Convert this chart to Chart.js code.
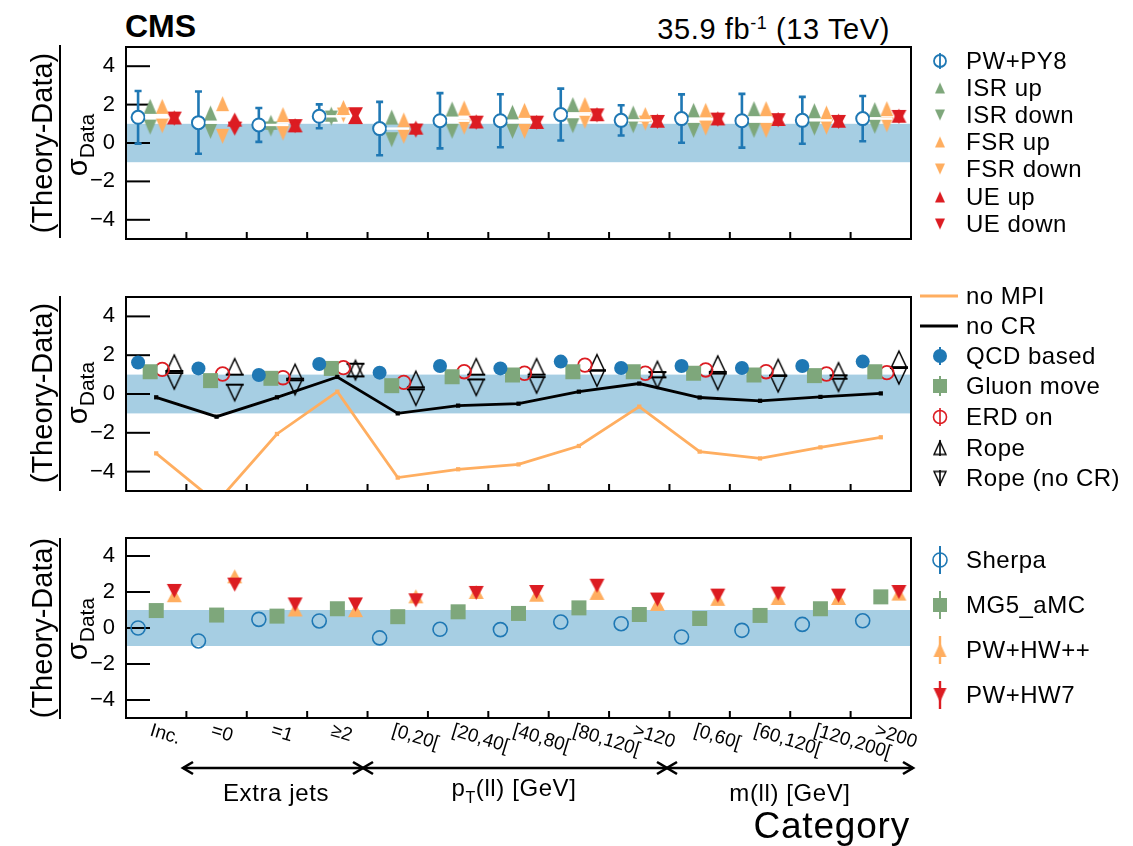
<!DOCTYPE html>
<html>
<head>
<meta charset="utf-8">
<script src="https://cdn.jsdelivr.net/npm/chart.js@4.4.1/dist/chart.umd.min.js"></script>
<style>
  body { margin:0; background:#fff; width:1133px; height:846px; overflow:hidden; position:relative;
         font-family:"Liberation Sans", Arial, Helvetica, sans-serif; color:#000; }
  .abs { position:absolute; }
  canvas.panel { position:absolute; left:0; }
  .ytitle { position:absolute; white-space:nowrap; line-height:1; font-size:29px;
            transform:translate(-50%,-50%) rotate(-90deg); }
  .ytitle sub { font-size:21px; vertical-align:-0.35em; }
  .frac { position:absolute; left:59px; width:2px; background:#000; }
  .legend { position:absolute; left:918px; width:215px; }
  .row { position:absolute; left:0; height:30px; display:flex; align-items:center; white-space:nowrap;
         font-size:24px; letter-spacing:0.5px; }
  .row canvas { margin-right:4px; }
  .xl { position:absolute; font-size:19px; line-height:1; white-space:nowrap;
        transform-origin:0 50%; transform:translateY(-50%) rotate(17deg); }
  .grp { position:absolute; font-size:24px; letter-spacing:0.6px; white-space:nowrap; line-height:1;
         transform:translateX(-50%); }
  .grp sub { font-size:16px; vertical-align:-0.45em; }
</style>
</head>
<body>
<div class="abs" style="left:125px;top:10px;font-size:32px;font-weight:bold;line-height:1;">CMS</div>
<div class="abs" style="right:243px;top:14px;font-size:29px;letter-spacing:0.6px;line-height:1;white-space:nowrap;">35.9 fb<sup style="font-size:18px;vertical-align:0.55em;">-1</sup> (13 TeV)</div>

<canvas id="cTop" class="panel" width="925" height="212" style="top:37px"></canvas>
<canvas id="cMid" class="panel" width="925" height="214" style="top:287px"></canvas>
<canvas id="cBot" class="panel" width="925" height="200" style="top:528px"></canvas>

<div class="ytitle" style="left:42px;top:143px;">(Theory-Data)</div>
<div class="frac" style="top:45px;height:193px;"></div>
<div class="ytitle" style="left:80px;top:145px;">σ<sub>Data</sub></div>

<div class="ytitle" style="left:42px;top:393px;">(Theory-Data)</div>
<div class="frac" style="top:296px;height:195px;"></div>
<div class="ytitle" style="left:80px;top:393px;">σ<sub>Data</sub></div>

<div class="ytitle" style="left:42px;top:628px;">(Theory-Data)</div>
<div class="frac" style="top:538px;height:181px;"></div>
<div class="ytitle" style="left:80px;top:629px;">σ<sub>Data</sub></div>

<div id="legTop" class="legend" style="top:0"></div>
<div id="legMid" class="legend" style="top:0"></div>
<div id="legBot" class="legend" style="top:0"></div>

<div id="xlabels"></div>

<svg class="abs" style="left:0;top:0;" width="1133" height="846">
  <g stroke="#000" stroke-width="2.6" fill="none" stroke-linejoin="miter">
    <line x1="183" y1="768" x2="913" y2="768"/>
    <polyline points="193,762 183,768 193,774"/>
    <polyline points="353,762 363,768 353,774"/>
    <polyline points="373,762 363,768 373,774"/>
    <polyline points="657,762 667,768 657,774"/>
    <polyline points="677,762 667,768 677,774"/>
    <polyline points="903,762 913,768 903,774"/>
  </g>
</svg>
<div class="grp" style="left:276px;top:781px;">Extra jets</div>
<div class="grp" style="left:514px;top:776px;">p<sub>T</sub>(ll) [GeV]</div>
<div class="grp" style="left:790px;top:781px;">m(ll) [GeV]</div>
<div class="abs" style="right:223px;top:807px;font-size:37px;letter-spacing:0.8px;line-height:1;">Category</div>

<script>
// ---------- categories and axis ticks ----------
const categories = ['Inc.', '=0', '=1', '\u22652', '[0,20[', '[20,40[', '[40,80[', '[80,120[',
                    '>120', '[0,60[', '[60,120[', '[120,200[', '>200'];
const yTicks = [-4, -2, 0, 2, 4];

// ---------- upper panel: PW+PY8 and its ISR / FSR / UE variations ----------
const pwpy8    = [1.34, 1.06, 0.94, 1.39, 0.75, 1.16, 1.16, 1.48, 1.18, 1.27, 1.16, 1.18, 1.27];
const pwpy8Err = [1.37, 1.62, 0.88, 0.62, 1.39, 1.44, 1.38, 1.35, 0.79, 1.26, 1.40, 1.22, 1.18];
const isrUp    = [1.91, 1.56, 1.08, 1.50, 1.35, 1.77, 1.60, 2.00, 1.56, 1.70, 1.79, 1.68, 1.74];
const isrDown  = [0.83, 0.61, 0.73, 1.30, 0.17, 0.61, 0.61, 0.90, 0.90, 0.66, 0.66, 0.78, 0.87];
const fsrUp    = [1.91, 2.05, 1.48, 1.85, 1.20, 1.82, 1.70, 2.00, 1.48, 1.70, 1.79, 1.56, 1.79];
const fsrDown  = [0.90, 0.35, 0.52, 1.46, 0.35, 0.83, 0.61, 1.13, 1.04, 0.78, 0.66, 0.83, 0.95];
const ueUp     = [1.33, 1.22, 0.92, 1.35, 0.80, 1.12, 1.10, 1.50, 1.16, 1.28, 1.25, 1.16, 1.42];
const ueDown   = [1.27, 0.75, 0.88, 1.50, 0.65, 1.06, 1.06, 1.44, 1.10, 1.22, 1.19, 1.10, 1.36];

// ---------- middle panel: MPI / colour reconnection models ----------
const noMPI    = [-3.06, -5.6, -2.06, 0.12, -4.31, -3.88, -3.63, -2.68, -0.65, -2.97, -3.32, -2.75, -2.23];
const noCR     = [-0.17, -1.17, -0.17, 0.88, -1.00, -0.60, -0.50, 0.12, 0.54, -0.18, -0.35, -0.15, 0.03];
const qcdBased = [1.62, 1.32, 0.98, 1.55, 1.10, 1.44, 1.32, 1.67, 1.34, 1.44, 1.34, 1.44, 1.67];
const gluonMove= [1.15, 0.69, 0.81, 1.32, 0.43, 0.89, 0.98, 1.15, 1.15, 1.07, 0.98, 0.95, 1.15];
const erdOn    = [1.27, 1.03, 0.84, 1.36, 0.60, 1.15, 1.07, 1.49, 1.07, 1.24, 1.15, 1.03, 1.10];
const rope     = [1.60, 1.41, 1.12, 1.32, 0.76, 1.41, 1.41, 1.62, 1.27, 1.55, 1.37, 1.20, 1.80];
const ropeNoCR = [0.67, 0.07, 0.38, 1.15, -0.17, 0.34, 0.46, 0.81, 0.72, 0.64, 0.52, 0.55, 0.93];

// ---------- lower panel: alternative generators ----------
const sherpa   = [0.00, -0.72, 0.48, 0.39, -0.55, -0.07, -0.09, 0.33, 0.24, -0.50, -0.13, 0.20, 0.40];
const mg5amc   = [0.97, 0.72, 0.66, 1.07, 0.63, 0.90, 0.81, 1.12, 0.75, 0.53, 0.70, 1.07, 1.73];
const pwhwpp   = [1.82, 2.87, 1.03, 0.99, 1.76, 2.00, 1.85, 1.95, 1.34, 1.62, 1.67, 1.67, 1.91];
const pwhw7    = [2.06, 2.41, 1.31, 1.31, 1.54, 1.95, 2.00, 2.35, 1.58, 1.80, 1.91, 1.80, 2.00];

// ---------- styling ----------
const BLUE = '#1f78b4', GREEN = '#7ea77b', ORANGE = '#ffae60', RED = '#dc1c22', BAND = '#a6cee3';
const FONT = '"Liberation Sans", Arial, Helvetica, sans-serif';

// marker sprites drawn once on small canvases
function sprite(kind, w, h, fill, stroke, lw, baseLine, baseColor) {
  const pad = 3;
  const c = document.createElement('canvas');
  c.width = Math.ceil(Math.max(w, baseLine || 0) + 2 * pad);
  c.height = Math.ceil(h + 2 * pad);
  const g = c.getContext('2d');
  const cx = c.width / 2, cy = c.height / 2;
  g.beginPath();
  if (kind === 'up') {
    g.moveTo(cx, cy - h / 2); g.lineTo(cx + w / 2, cy + h / 2); g.lineTo(cx - w / 2, cy + h / 2); g.closePath();
  } else if (kind === 'down') {
    g.moveTo(cx, cy + h / 2); g.lineTo(cx + w / 2, cy - h / 2); g.lineTo(cx - w / 2, cy - h / 2); g.closePath();
  } else if (kind === 'square') {
    g.rect(cx - w / 2, cy - h / 2, w, h);
  } else {
    g.arc(cx, cy, w / 2, 0, 2 * Math.PI);
  }
  if (fill) { g.fillStyle = fill; g.fill(); }
  if (stroke) { g.strokeStyle = stroke; g.lineWidth = lw; g.stroke(); }
  if (baseLine) {
    const by = kind === 'up' ? cy + h / 2 : cy - h / 2;
    g.beginPath(); g.moveTo(cx - baseLine / 2, by); g.lineTo(cx + baseLine / 2, by);
    g.strokeStyle = baseColor || stroke; g.lineWidth = 2; g.stroke();
  }
  return c;
}

const M = {
  isrUp:   sprite('up', 13, 15, GREEN),
  isrDn:   sprite('down', 13, 15, GREEN),
  fsrUp:   sprite('up', 13, 15, ORANGE),
  fsrDn:   sprite('down', 13, 15, ORANGE),
  ueUp:    sprite('up', 15, 14, RED),
  ueDn:    sprite('down', 15, 14, RED),
  gluon:   sprite('square', 15, 15, GREEN),
  ropeUp:  sprite('up', 15, 16, null, '#000', 1.5, 18),
  ropeDn:  sprite('down', 15, 16, null, '#000', 1.5, 18),
  hwppUp:  sprite('up', 15, 14, ORANGE),
  hw7Dn:   sprite('down', 15, 14, RED)
};

// ---------- dataset helpers ----------
function pts(values, off) { return values.map((v, i) => ({ x: i + off, y: v })); }
function markerSet(label, values, off, img) {
  return { label, data: pts(values, off), pointStyle: img, pointRadius: 7, pointHoverRadius: 7,
           pointBorderWidth: 0, showLine: false };
}
function circleSet(label, values, off, r, fill, stroke, bw) {
  return { label, data: pts(values, off), pointStyle: 'circle', pointRadius: r, pointHoverRadius: r,
           pointBackgroundColor: fill, pointBorderColor: stroke, pointBorderWidth: bw, showLine: false };
}
function lineSet(label, values, color) {
  return { label, data: pts(values, 0.5), showLine: true, borderColor: color, borderWidth: 2.8,
           pointStyle: 'rect', pointRadius: 3, pointHoverRadius: 3, pointBackgroundColor: color,
           pointBorderWidth: 0, tension: 0 };
}

// band at +-1 sigma, inner tick marks and the frame of each panel
const panelDecor = {
  id: 'panelDecor',
  beforeDatasetsDraw(chart, args, opts) {
    const { ctx, chartArea: a, scales: { x, y } } = chart;
    ctx.save();
    const yHi = y.getPixelForValue(1), yLo = y.getPixelForValue(-1);
    ctx.fillStyle = BAND;
    ctx.fillRect(a.left, yHi, a.right - a.left, yLo - yHi);
    ctx.strokeStyle = '#000'; ctx.lineWidth = 2;
    yTicks.forEach(v => {
      const p = y.getPixelForValue(v);
      ctx.beginPath(); ctx.moveTo(a.left, p); ctx.lineTo(a.left + 24, p); ctx.stroke();
    });
    for (let i = 1; i < categories.length; i++) {
      const p = x.getPixelForValue(i);
      ctx.beginPath(); ctx.moveTo(p, a.bottom); ctx.lineTo(p, a.bottom - 7); ctx.stroke();
    }
    if (opts.err) {
      const { values, err, off, color } = opts.err;
      ctx.strokeStyle = color; ctx.lineWidth = 2.6;
      values.forEach((v, i) => {
        const px = x.getPixelForValue(i + off);
        const t = y.getPixelForValue(v + err[i]), b = y.getPixelForValue(v - err[i]);
        ctx.beginPath(); ctx.moveTo(px, t); ctx.lineTo(px, b);
        ctx.moveTo(px - 3.5, t); ctx.lineTo(px + 3.5, t);
        ctx.moveTo(px - 3.5, b); ctx.lineTo(px + 3.5, b);
        ctx.stroke();
      });
    }
    ctx.restore();
  },
  afterDatasetsDraw(chart, args, opts) {
    const { ctx, chartArea: a, scales: { x, y } } = chart;
    ctx.save();
    if (opts.whiteBar) {
      const { values, from, to } = opts.whiteBar;
      ctx.strokeStyle = '#fff'; ctx.lineWidth = 2.4;
      values.forEach((v, i) => {
        const p = y.getPixelForValue(v);
        ctx.beginPath();
        ctx.moveTo(x.getPixelForValue(i + from) + 7, p); ctx.lineTo(x.getPixelForValue(i + to), p);
        ctx.stroke();
      });
    }
    ctx.strokeStyle = '#000'; ctx.lineWidth = 2;
    ctx.strokeRect(a.left, a.top, a.right - a.left, a.bottom - a.top);
    ctx.restore();
  }
};

function makeChart(id, datasets, decor) {
  return new Chart(document.getElementById(id), {
    type: 'scatter',
    data: { datasets },
    plugins: [panelDecor],
    options: {
      responsive: false, animation: false, events: [],
      layout: { autoPadding: false, padding: { left: 0, right: 14, top: 10, bottom: 10 } },
      plugins: { legend: { display: false }, tooltip: { enabled: false }, panelDecor: decor },
      scales: {
        x: { type: 'linear', min: 0, max: categories.length, display: false },
        y: {
          type: 'linear', min: -5, max: 5, position: 'left',
          grid: { display: false, drawTicks: false }, border: { display: false },
          afterBuildTicks: s => { s.ticks = yTicks.map(v => ({ value: v })); },
          afterFit: s => { s.width = 126; s.paddingTop = 0; s.paddingBottom = 0; s.paddingLeft = 0; s.paddingRight = 0; },
          ticks: { color: '#000', padding: 11, font: { family: FONT, size: 22 },
                   callback: v => (v < 0 ? '\u2212' + Math.abs(v) : String(v)) }
        }
      }
    }
  });
}

makeChart('cTop', [
  circleSet('PW+PY8', pwpy8, 0.2, 6.5, '#fff', BLUE, 2),
  markerSet('ISR up', isrUp, 0.4, M.isrUp),
  markerSet('ISR down', isrDown, 0.4, M.isrDn),
  markerSet('FSR up', fsrUp, 0.6, M.fsrUp),
  markerSet('FSR down', fsrDown, 0.6, M.fsrDn),
  markerSet('UE up', ueUp, 0.8, M.ueUp),
  markerSet('UE down', ueDown, 0.8, M.ueDn)
], { err: { values: pwpy8, err: pwpy8Err, off: 0.2, color: BLUE },
     whiteBar: { values: pwpy8, from: 0.2, to: 0.69 } });

makeChart('cMid', [
  lineSet('no MPI', noMPI, ORANGE),
  lineSet('no CR', noCR, '#000'),
  circleSet('QCD based', qcdBased, 0.2, 7, BLUE, BLUE, 0),
  markerSet('Gluon move', gluonMove, 0.4, M.gluon),
  circleSet('ERD on', erdOn, 0.6, 6.8, 'rgba(0,0,0,0)', RED, 1.8),
  markerSet('Rope', rope, 0.8, M.ropeUp),
  markerSet('Rope (no CR)', ropeNoCR, 0.8, M.ropeDn)
], {});

const bot = makeChart('cBot', [
  circleSet('Sherpa', sherpa, 0.2, 7, 'rgba(0,0,0,0)', BLUE, 1.6),
  markerSet('MG5_aMC', mg5amc, 0.5, M.gluon),
  markerSet('PW+HW7', pwhw7, 0.8, M.hw7Dn),
  markerSet('PW+HW++', pwhwpp, 0.8, M.hwppUp)
], {});

// category labels under the lower panel, placed through its x scale
const xl = document.getElementById('xlabels');
const botTop = 528;
categories.forEach((c, i) => {
  const d = document.createElement('div');
  d.className = 'xl';
  d.textContent = c;
  d.style.left = (bot.scales.x.getPixelForValue(i + 0.5) - 5) + 'px';
  d.style.top = (botTop + bot.chartArea.bottom + 11) + 'px';
  xl.appendChild(d);
});

// ---------- legends ----------
function legendCanvas(draw) {
  const c = document.createElement('canvas');
  c.width = 44; c.height = 30;
  draw(c.getContext('2d'), 22, 15);
  return c;
}
function img(g, s, x, y) { g.drawImage(s, x - s.width / 2, y - s.height / 2); }
function vbar(g, x, y, half, color, w) {
  g.strokeStyle = color; g.lineWidth = w || 2;
  g.beginPath(); g.moveTo(x, y - half); g.lineTo(x, y + half); g.stroke();
}
function circ(g, x, y, r, fill, stroke, lw) {
  g.beginPath(); g.arc(x, y, r, 0, 2 * Math.PI);
  if (fill) { g.fillStyle = fill; g.fill(); }
  if (stroke) { g.strokeStyle = stroke; g.lineWidth = lw; g.stroke(); }
}
function hline(g, color) {
  g.strokeStyle = color; g.lineWidth = 2.8;
  g.beginPath(); g.moveTo(2, 15); g.lineTo(40, 15); g.stroke();
}
function addRows(id, rows) {
  const box = document.getElementById(id);
  rows.forEach(([y, draw, text]) => {
    const r = document.createElement('div');
    r.className = 'row';
    r.style.top = (y - 15) + 'px';
    r.appendChild(legendCanvas(draw));
    const s = document.createElement('span');
    s.textContent = text;
    r.appendChild(s);
    box.appendChild(r);
  });
}
const L = {
  up: (col, w, h) => sprite('up', w, h, col),
  dn: (col, w, h) => sprite('down', w, h, col)
};

addRows('legTop', [
  [61,  (g, x, y) => { circ(g, x, y, 6, '#fff', BLUE, 1.8); vbar(g, x, y, 8, BLUE, 1.8); }, 'PW+PY8'],
  [88,  (g, x, y) => img(g, L.up(GREEN, 10, 11), x, y), 'ISR up'],
  [115, (g, x, y) => img(g, L.dn(GREEN, 10, 11), x, y), 'ISR down'],
  [142, (g, x, y) => img(g, L.up(ORANGE, 10, 11), x, y), 'FSR up'],
  [169, (g, x, y) => img(g, L.dn(ORANGE, 10, 11), x, y), 'FSR down'],
  [197, (g, x, y) => img(g, L.up(RED, 10, 11), x, y), 'UE up'],
  [224, (g, x, y) => img(g, L.dn(RED, 10, 11), x, y), 'UE down']
]);

addRows('legMid', [
  [296, (g) => hline(g, ORANGE), 'no MPI'],
  [326, (g) => hline(g, '#000'), 'no CR'],
  [356, (g, x, y) => { vbar(g, x, y, 9, BLUE, 2); circ(g, x, y, 7, BLUE); }, 'QCD based'],
  [386, (g, x, y) => { vbar(g, x, y, 10, GREEN, 2); g.fillStyle = GREEN; g.fillRect(x - 7, y - 7, 14, 14); }, 'Gluon move'],
  [417, (g, x, y) => { circ(g, x, y, 6.5, null, RED, 1.6); vbar(g, x, y, 9, RED, 1.6); }, 'ERD on'],
  [448, (g, x, y) => { img(g, sprite('up', 12, 13, null, '#000', 1.4), x, y); vbar(g, x, y, 8, '#000', 1.6); }, 'Rope'],
  [478, (g, x, y) => { img(g, sprite('down', 12, 13, null, '#000', 1.4), x, y); vbar(g, x, y, 8, '#000', 1.6); }, 'Rope (no CR)']
]);

addRows('legBot', [
  [560, (g, x, y) => { circ(g, x, y, 7, null, BLUE, 1.6); vbar(g, x, y, 14, BLUE, 2); }, 'Sherpa'],
  [605, (g, x, y) => { vbar(g, x, y, 14, GREEN, 2); g.fillStyle = GREEN; g.fillRect(x - 7, y - 7, 14, 14); }, 'MG5_aMC'],
  [650, (g, x, y) => { vbar(g, x, y, 14, ORANGE, 2.4); img(g, sprite('up', 13, 14, ORANGE), x, y); }, 'PW+HW++'],
  [695, (g, x, y) => { vbar(g, x, y, 14, RED, 2.4); img(g, sprite('down', 13, 14, RED), x, y); }, 'PW+HW7']
]);
</script>
</body>
</html>
